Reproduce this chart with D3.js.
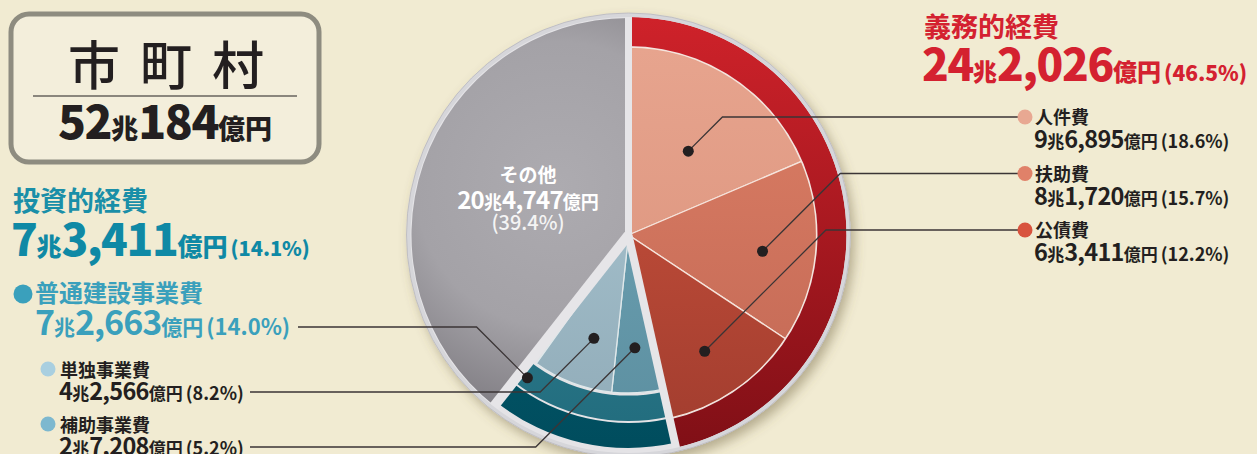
<!DOCTYPE html>
<html>
<head>
<meta charset="utf-8">
<script src="https://cdn.jsdelivr.net/npm/d3@7"></script>
<style>
body { margin: 0; background: #f1ebd2; }
svg { display: block; font-family: "Noto Sans CJK JP", sans-serif; }
</style>
</head>
<body>
<script>
// values
var title = "市町村";
var totalAmount = "52兆184億円";

var groupNames = ["義務的経費", "投資的経費", "その他"];
var groupShares = [46.5, 14.1, 39.4];
var groupAmounts = ["24兆2,026億円", "7兆3,411億円", "20兆4,747億円"];

var mandatoryNames = ["人件費", "扶助費", "公債費"];
var mandatoryShares = [18.6, 15.7, 12.2];
var mandatoryAmounts = ["9兆6,895億円", "8兆1,720億円", "6兆3,411億円"];

var constructionName = "普通建設事業費";
var constructionShare = 14.0;
var constructionAmount = "7兆2,663億円";

// inner wedges of the investment slice, clockwise
var projectNames = ["補助事業費", "単独事業費"];
var projectShares = [5.2, 8.2];
var projectAmounts = ["2兆7,208億円", "4兆2,566億円"];

var width = 1257, height = 454;
var cx = 628.5, cy = 235;

var svg = d3.select("body").append("svg")
    .attr("width", width)
    .attr("height", height);

var defs = svg.append("defs");

var shadow = defs.append("filter").attr("id", "shadow")
    .attr("x", "-20%").attr("y", "-20%").attr("width", "140%").attr("height", "140%");
shadow.append("feDropShadow")
    .attr("dx", 4).attr("dy", 6).attr("stdDeviation", 6)
    .attr("flood-color", "#6b5f3a").attr("flood-opacity", 0.45);

// vertical gradient helper (pie coordinates, centre at 0,0)
var grad = function(id, top, bottom) {
  var g = defs.append("linearGradient").attr("id", id)
      .attr("gradientUnits", "userSpaceOnUse")
      .attr("x1", 0).attr("y1", -220).attr("x2", 0).attr("y2", 220);
  g.append("stop").attr("offset", "0%").attr("stop-color", top);
  g.append("stop").attr("offset", "100%").attr("stop-color", bottom);
  return "url(#" + id + ")";
};

var grayGrad = defs.append("radialGradient").attr("id", "grayGrad")
    .attr("gradientUnits", "userSpaceOnUse")
    .attr("cx", -70).attr("cy", -50).attr("r", 260);
grayGrad.append("stop").attr("offset", "0%").attr("stop-color", "#adabb0");
grayGrad.append("stop").attr("offset", "55%").attr("stop-color", "#a4a2a7");
grayGrad.append("stop").attr("offset", "100%").attr("stop-color", "#77747a");

var ringRed = grad("ringRed", "#cf222a", "#7f0f16");
var mandatoryFills = [
  grad("m0", "#e8a690", "#d88e77"),
  grad("m1", "#df8167", "#c06653"),
  grad("m2", "#d2563f", "#a03c2e")
];
var projectFills = [
  grad("p0", "#74a9bb", "#5b8e9f"),
  grad("p1", "#b0ccd7", "#8faab7")
];
var constructionFill = grad("cFill", "#3a8ea2", "#216b7c");
var investFill = grad("iFill", "#076a7e", "#004c5d");

var angle = d3.scaleLinear().domain([0, 100]).range([0, 2 * Math.PI]);

var pie = svg.append("g").attr("transform", "translate(" + cx + "," + cy + ")");

// light grey disc behind everything (rim + gaps)
pie.append("circle").attr("r", 222).attr("fill", "#e4e3e6").attr("filter", "url(#shadow)");

var arc = d3.arc();

var mandStart = 0;
var investStart = groupShares[0];
var otherStart = groupShares[0] + groupShares[1];

// その他
pie.append("path")
    .attr("d", arc({innerRadius: 0, outerRadius: 217, startAngle: angle(otherStart), endAngle: angle(100)}))
    .attr("fill", "url(#grayGrad)");

// 義務的経費 : inner wedges + outer ring
var acc = mandStart;
var mandArcs = mandatoryShares.map(function(v, i) {
  var a = {startAngle: angle(acc), endAngle: angle(acc + v), innerRadius: 0, outerRadius: 188, i: i};
  acc += v;
  return a;
});
pie.selectAll("path.mand").data(mandArcs).enter().append("path")
    .attr("class", "mand")
    .attr("d", arc)
    .attr("fill", function(d) { return mandatoryFills[d.i]; })
    .attr("stroke", "#f6e4dc").attr("stroke-width", 1.3);
pie.append("path")
    .attr("d", arc({innerRadius: 189, outerRadius: 218, startAngle: angle(mandStart), endAngle: angle(investStart)}))
    .attr("fill", ringRed);

// 投資的経費 : project wedges, construction ring, investment ring
acc = investStart;
var projArcs = projectShares.map(function(v, i) {
  var a = {startAngle: angle(acc), endAngle: angle(acc + v), innerRadius: 0, outerRadius: 158, i: i};
  acc += v;
  return a;
});
pie.selectAll("path.proj").data(projArcs).enter().append("path")
    .attr("class", "proj")
    .attr("d", arc)
    .attr("fill", function(d) { return projectFills[d.i]; })
    .attr("stroke", "#dfe8ea").attr("stroke-width", 1.3);
pie.append("path")
    .attr("d", arc({innerRadius: 160.5, outerRadius: 186, startAngle: angle(investStart), endAngle: angle(investStart + constructionShare)}))
    .attr("fill", constructionFill);
pie.append("path")
    .attr("d", arc({innerRadius: 188, outerRadius: 213, startAngle: angle(investStart), endAngle: angle(otherStart)}))
    .attr("fill", investFill);

// gaps between the three groups
var gaps = [[mandStart, 7], [investStart, 8], [otherStart, 10]];
pie.selectAll("line.gap").data(gaps).enter().append("line")
    .attr("class", "gap")
    .attr("x1", 0).attr("y1", 0)
    .attr("x2", function(d) { return Math.sin(angle(d[0])) * 220; })
    .attr("y2", function(d) { return -Math.cos(angle(d[0])) * 220; })
    .attr("stroke", "#e6e5e8")
    .attr("stroke-width", function(d) { return d[1]; });

// rim
pie.append("circle").attr("r", 220).attr("fill", "none")
    .attr("stroke", "#d6d6da").attr("stroke-width", 4);
pie.append("circle").attr("r", 222).attr("fill", "none")
    .attr("stroke", "#b9b8bd").attr("stroke-width", 0.8);

// rich text: digits big, 兆 / 億円 small, then (xx.x%)
var richText = function(x, y, amount, share, sizes, color, anchor, weight) {
  var t = svg.append("text")
      .attr("x", x).attr("y", y)
      .attr("fill", color)
      .attr("font-weight", weight || 700)
      .attr("text-anchor", anchor || "start");
  var parts = amount.match(/[\d,]+|[^\d,]+/g);
  parts.forEach(function(p) {
    var isNum = /^[\d,]+$/.test(p);
    t.append("tspan")
        .attr("font-size", isNum ? sizes[0] : sizes[1])
        .attr("letter-spacing", isNum ? -sizes[0] * 0.03 : 0)
        .text(p);
  });
  if (share != null) {
    t.append("tspan").attr("font-size", sizes[2]).attr("dx", 3)
        .text("(" + share.toFixed(1) + "%)");
  }
  return t;
};

// title box
svg.append("rect")
    .attr("x", 11).attr("y", 14).attr("width", 308).attr("height", 148)
    .attr("rx", 18)
    .attr("fill", "#f3eedb")
    .attr("stroke", "#8e8c80").attr("stroke-width", 5);
svg.append("text")
    .attr("x", 166).attr("y", 85)
    .attr("text-anchor", "middle")
    .attr("font-size", 52).attr("font-weight", 500)
    .attr("letter-spacing", 20)
    .attr("fill", "#231f20")
    .text(title)
    .attr("dx", 10);
svg.append("line")
    .attr("x1", 33).attr("x2", 297).attr("y1", 96).attr("y2", 96)
    .attr("stroke", "#231f20").attr("stroke-width", 1.2);
richText(165, 139, totalAmount, null, [46, 27, 0], "#231f20", "middle", 900);

// 投資的経費
svg.append("text")
    .attr("x", 13).attr("y", 211)
    .attr("font-size", 27).attr("font-weight", 700)
    .attr("fill", "#1a8fa8")
    .text(groupNames[1]);
richText(11, 256, groupAmounts[1], groupShares[1], [44, 25, 20], "#0f89a5", "start", 900);

// 義務的経費
svg.append("text")
    .attr("x", 924).attr("y", 37)
    .attr("font-size", 27).attr("font-weight", 700)
    .attr("fill", "#d42130")
    .text(groupNames[0]);
richText(922, 81, groupAmounts[0], groupShares[0], [44, 24, 21], "#d42130", "start", 900);

// その他 label inside the grey slice
svg.append("text")
    .attr("x", 528).attr("y", 182)
    .attr("text-anchor", "middle")
    .attr("font-size", 19).attr("font-weight", 700)
    .attr("fill", "#ffffff")
    .text(groupNames[2]);
richText(528, 209, groupAmounts[2], null, [24, 18, 0], "#ffffff", "middle", 700);
svg.append("text")
    .attr("x", 528).attr("y", 230)
    .attr("text-anchor", "middle")
    .attr("font-size", 20).attr("font-weight", 500)
    .attr("fill", "#f4f4f4")
    .text("(" + groupShares[2].toFixed(1) + "%)");

// point on a slice for the leader dot
var pointOn = function(a0, a1, f, r) {
  var a = angle(a0 + (a1 - a0) * f);
  return [cx + Math.sin(a) * r, cy - Math.cos(a) * r];
};

var leaders = svg.append("g")
    .attr("fill", "none")
    .attr("stroke", "#3b3536")
    .attr("stroke-width", 1.3);
var dotsG = svg.append("g");

// right legend : 義務的経費 breakdown
var legendX = 1025, legendY0 = 117, legendStep = 56.5;
var mandDotR = [103, 135, 139];
var mandColors = ["#e8a892", "#e08169", "#d8533e"];
acc = mandStart;
mandatoryShares.forEach(function(v, i) {
  var p = pointOn(acc, acc + v, 0.53, mandDotR[i]);
  acc += v;
  var ly = legendY0 + i * legendStep;
  var ex = p[0] + Math.abs(p[1] - ly);
  leaders.append("polyline")
      .attr("points", [p, [ex, ly], [legendX, ly]].map(function(q) { return q.join(","); }).join(" "));
  dotsG.append("circle").attr("cx", p[0]).attr("cy", p[1]).attr("r", 5.5).attr("fill", "#231f20");
  dotsG.append("circle").attr("cx", legendX).attr("cy", ly).attr("r", 7.5).attr("fill", mandColors[i]);
  svg.append("text")
      .attr("x", legendX + 10).attr("y", ly + 7)
      .attr("font-size", 18).attr("font-weight", 700)
      .attr("fill", "#231f20")
      .text(mandatoryNames[i]);
  richText(legendX + 9, ly + 31, mandatoryAmounts[i], v, [23.5, 17, 18], "#231f20", "start", 700);
});

// left : 普通建設事業費
var cp = pointOn(investStart, investStart + constructionShare, 0.95, 175);
var cy0 = 327;
leaders.append("polyline")
    .attr("points", [[298, cy0], [cp[0] - Math.abs(cp[1] - cy0), cy0], cp].map(function(q) { return q.join(","); }).join(" "));
dotsG.append("circle").attr("cx", cp[0]).attr("cy", cp[1]).attr("r", 5.5).attr("fill", "#231f20");
dotsG.append("circle").attr("cx", 23).attr("cy", 294).attr("r", 9.5).attr("fill", "#3aa0bc");
svg.append("text")
    .attr("x", 35).attr("y", 302)
    .attr("font-size", 24).attr("font-weight", 700)
    .attr("fill", "#3aa0bc")
    .text(constructionName);
richText(35, 335, constructionAmount, constructionShare, [34, 21, 22], "#3aa0bc", "start", 700);

// left : 単独事業費 / 補助事業費 (listed 単独 first)
var projLabelY = [447, 392];
var projTextY = [432, 377];
var projColors = ["#7db8cf", "#a9cfe0"];
var projDotR = [113, 109];
var projF = [0.5, 0.42];
acc = investStart;
projectShares.forEach(function(v, i) {
  var p = pointOn(acc, acc + v, projF[i], projDotR[i]);
  acc += v;
  var ly = projLabelY[i];
  leaders.append("polyline")
      .attr("points", [[250, ly], [p[0] - Math.abs(ly - p[1]), ly], p].map(function(q) { return q.join(","); }).join(" "));
  dotsG.append("circle").attr("cx", p[0]).attr("cy", p[1]).attr("r", 5.5).attr("fill", "#231f20");
  dotsG.append("circle").attr("cx", 48).attr("cy", projTextY[i] - 8).attr("r", 7.5).attr("fill", projColors[i]);
  svg.append("text")
      .attr("x", 60).attr("y", projTextY[i])
      .attr("font-size", 18).attr("font-weight", 700)
      .attr("fill", "#231f20")
      .text(projectNames[i]);
  richText(59, projTextY[i] + 23, projectAmounts[i], v, [23.5, 17, 18], "#231f20", "start", 700);
});
</script>
</body>
</html>
